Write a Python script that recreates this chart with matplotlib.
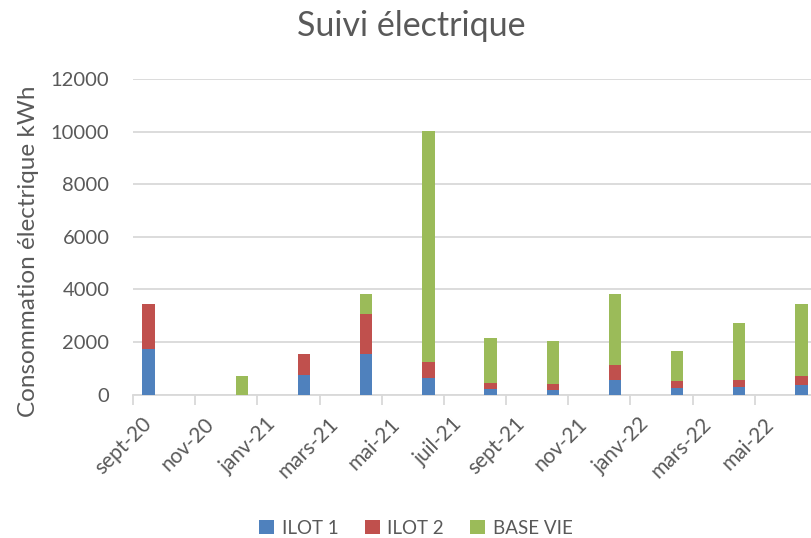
import numpy as np
import pandas as pd
import matplotlib
matplotlib.use('Agg')
import matplotlib.pyplot as plt
from matplotlib.ticker import FixedLocator

# data (kWh)
dates = ['2020-09', '2020-12', '2021-02', '2021-04', '2021-06', '2021-08',
         '2021-10', '2021-12', '2022-02', '2022-04', '2022-06']
ilot1 = [1730, 0, 760, 1530, 620, 200, 185, 565, 260, 275, 350]
ilot2 = [1730, 0, 790, 1550, 630, 230, 225, 570, 265, 290, 365]
base_vie = [0, 705, 0, 750, 8770, 1710, 1615, 2670, 1130, 2150, 2745]
series_names = ['ILOT 1', 'ILOT 2', 'BASE VIE']
tick_labels = ['sept-20', 'nov-20', 'janv-21', 'mars-21', 'mai-21', 'juil-21',
               'sept-21', 'nov-21', 'janv-22', 'mars-22', 'mai-22']
start, end = '2020-09', '2022-06'

plt.rcParams['font.family'] = ['Lato', 'DejaVu Sans']
txt = '#595959'
grid = '#d9d9d9'
colors = ['#4f81bd', '#c0504d', '#9bbb59']

# month index on a date axis
p0 = pd.Period(start, freq='M')
x = np.array([(pd.Period(d, freq='M') - p0).n for d in dates])
nmonths = (pd.Period(end, freq='M') - p0).n + 1

fig = plt.figure(figsize=(8.11, 5.38), dpi=100)
ax = fig.add_axes([133/811, 1 - 394.5/538, 684/811, 315.5/538])

bottom = np.zeros(len(x))
for vals, name, c in zip([ilot1, ilot2, base_vie], series_names, colors):
    ax.bar(x, vals, width=0.4, bottom=bottom, color=c, label=name, zorder=3)
    bottom = bottom + np.array(vals)

ax.set_xlim(-0.5, nmonths - 0.5)
ax.set_ylim(0, 12000)
ax.set_yticks(np.arange(0, 12001, 2000))
ax.yaxis.grid(True, color=grid, linewidth=1.3, zorder=0)
ax.tick_params(axis='y', length=0, pad=17, labelsize=14.5, labelcolor=txt)

# labels every two months at month centres, tick marks at boundaries
ax.set_xticks(np.arange(0, nmonths, 2))
ax.set_xticklabels(tick_labels, rotation=45, ha='right', va='center',
                   rotation_mode='anchor')
ax.tick_params(axis='x', which='major', length=0, pad=19, labelsize=15, labelcolor=txt)
ax.xaxis.set_minor_locator(FixedLocator(np.arange(-0.5, nmonths, 2)))
ax.tick_params(axis='x', which='minor', length=7, width=1.3, color=grid)

for s in ['top', 'right', 'left']:
    ax.spines[s].set_visible(False)
ax.spines['bottom'].set_color(grid)
ax.spines['bottom'].set_linewidth(1.3)

fig.text(29/811, 1 - 251/538, 'Consommation électrique kWh', rotation=90,
         ha='center', va='center', fontsize=17.5, color=txt)
fig.text(411/811, 1 - 26/538, 'Suivi électrique', ha='center', va='center',
         fontsize=24.5, color=txt)

fig.legend(loc='center', bbox_to_anchor=(416/811, 1 - 528/538), ncol=3,
           frameon=False, fontsize=13.5, labelcolor=txt, handlelength=0.8,
           handleheight=0.8, handletextpad=0.4, columnspacing=1.4)

fig.savefig('out.png', dpi=100)
